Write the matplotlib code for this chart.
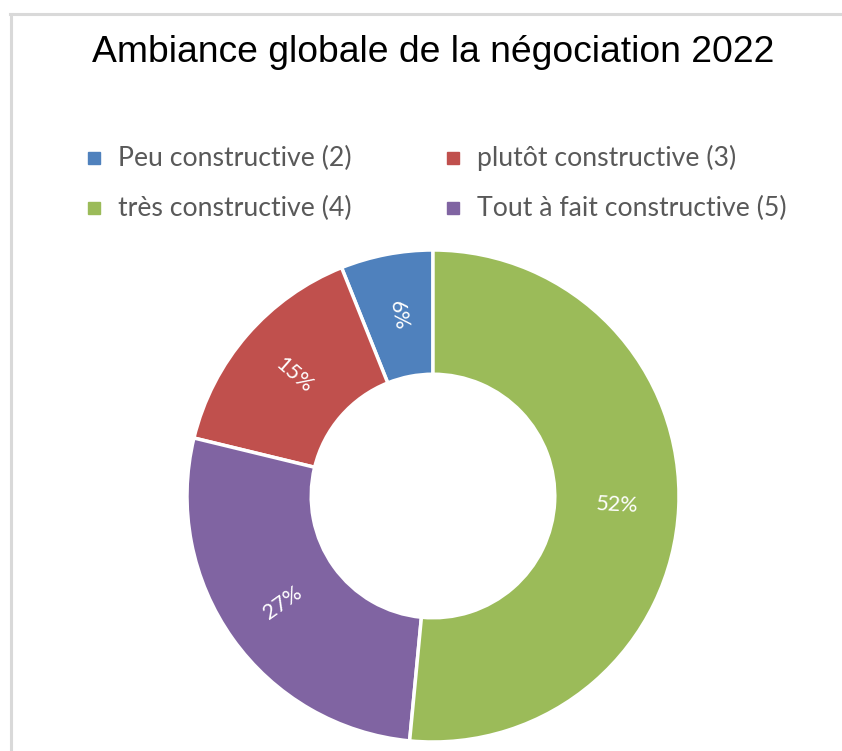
"""Donut chart: ambiance globale de la négociation 2022."""

import numpy as np
import matplotlib.pyplot as plt
from matplotlib.lines import Line2D
from matplotlib.patches import Rectangle

# Data (order as drawn counter-clockwise from the top)
categories = [
    "Peu constructive (2)",
    "plutôt constructive (3)",
    "Tout à fait constructive (5)",
    "très constructive (4)",
]
counts = [2, 5, 9, 17]
colors = ["#4F81BD", "#C0504D", "#8064A2", "#9BBB59"]
title = "Ambiance globale de la négociation 2022"

W, H = 842, 751
fig = plt.figure(figsize=(W / 100, H / 100), dpi=100)
fig.patch.set_facecolor("white")

# Light grey frame (top and left edges visible)
frame = "#D9D9D9"
fig.add_artist(Line2D([10 / W, 1.0], [1 - 13.5 / H] * 2, color=frame, lw=2.2))
fig.add_artist(Line2D([10.5 / W] * 2, [0, 1 - 13.5 / H], color=frame, lw=2.2))

fig.text(433 / W, 1 - 52 / H, title, ha="center", va="center",
         fontsize=26.8, family="Liberation Sans", color="black")

# Donut axes: centre ~ (433, 496) px, outer radius ~ 245 px
r_px = 246
cx, cy = 433, 496
ax = fig.add_axes([(cx - r_px) / W, 1 - (cy + r_px) / H,
                   2 * r_px / W, 2 * r_px / H])
ring = 0.505
wedges, _ = ax.pie(counts, colors=colors, startangle=90, counterclock=True,
                   radius=1.0,
                   wedgeprops=dict(width=ring, edgecolor="white", linewidth=2.5))
ax.set_xlim(-1, 1)
ax.set_ylim(-1, 1)
ax.set_aspect("equal")
ax.axis("off")

# Rotated percentage labels in the middle of the ring
total = sum(counts)
mid_r = 1 - ring / 2
for w, val in zip(wedges, counts):
    ang = (w.theta1 + w.theta2) / 2
    x = mid_r * np.cos(np.radians(ang))
    y = mid_r * np.sin(np.radians(ang))
    rot = (ang + 180) % 360 - 180
    if rot > 90:
        rot -= 180
    if rot < -90:
        rot += 180
    ax.text(x, y, f"{round(100 * val / total)}%", ha="center", va="center",
            rotation=rot, rotation_mode="anchor", color="white",
            fontsize=15.5, family="Lato")

# Legend: two rows, two columns, placed by hand
legend_order = [0, 1, 3, 2]
slots = [(88, 158), (447, 158), (88, 208), (447, 208)]
for i, (px, py) in zip(legend_order, slots):
    fig.add_artist(Rectangle((px / W, 1 - (py + 6) / H), 12 / W, 12 / H,
                             color=colors[i], transform=fig.transFigure))
    fig.text((px + 30) / W, 1 - py / H, categories[i], ha="left",
             va="center", fontsize=19.2, family="Lato", color="#595959")

fig.savefig("out.png", dpi=100, facecolor="white")
